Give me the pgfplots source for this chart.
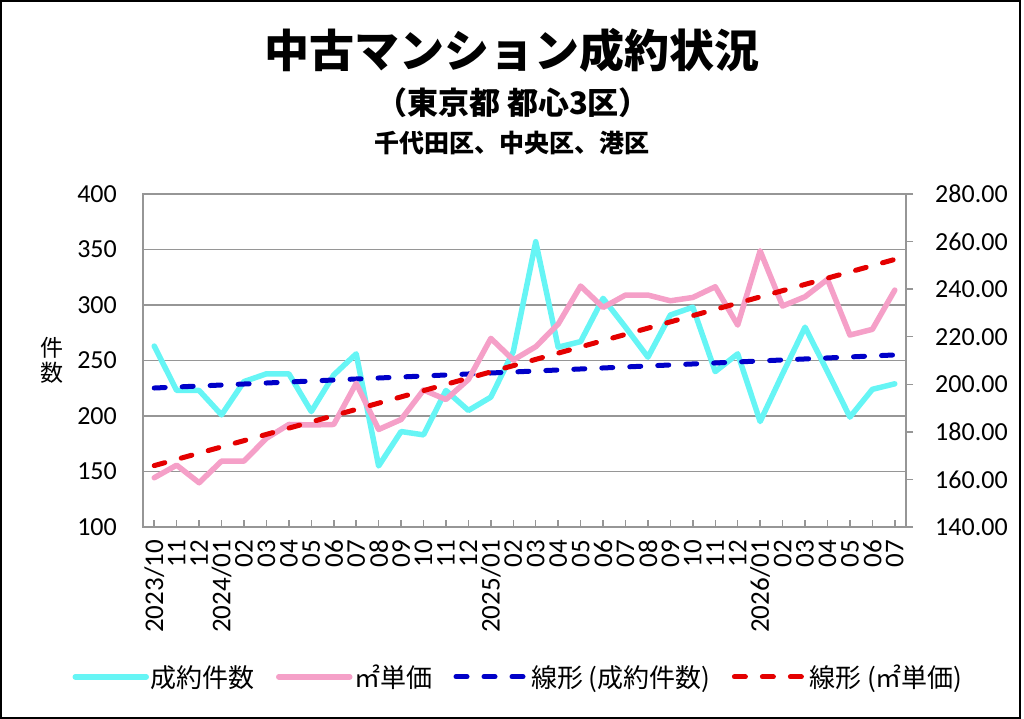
\documentclass[border=0pt]{standalone}
\usepackage{pgfplots}
\pgfplotsset{compat=1.18}
\usepackage{fontspec}
\setmainfont{Carlito}
\newfontfamily\jp{Noto Sans CJK JP}
\definecolor{cy}{RGB}{102,245,245}
\definecolor{pk}{RGB}{245,160,200}
\definecolor{bl}{RGB}{0,0,200}
\definecolor{rd}{RGB}{228,0,0}
\definecolor{gr}{RGB}{150,150,150}

\pgfplotstableread{
x cnt
0 263
1 223
2 223
3 201
4 231
5 238
6 238
7 204
8 237
9 256
10 155
11 186
12 183
13 223
14 205
15 217
16 258
17 357
18 262
19 267
20 306
21 280
22 253
23 291
24 298
25 240
26 256
27 195
28 238
29 280
30 240
31 199
32 224
33 229
}\cnttable

\pgfplotstableread{
x price
0 160.7
1 166.0
2 158.6
3 167.7
4 167.7
5 177.3
6 183.1
7 182.9
8 183.1
9 200.4
10 181.0
11 185.2
12 197.6
13 193.6
14 202.0
15 219.3
16 210.2
17 215.8
18 225.3
19 241.3
20 232.3
21 237.5
22 237.5
23 235.1
24 236.5
25 241.0
26 224.9
27 256.1
28 232.9
29 236.8
30 244.1
31 220.7
32 223.1
33 239.6
}\pricetable

\begin{document}
\begin{tikzpicture}[x=1bp,y=1bp]
\path (0,0) rectangle (1024,719);
\draw[black, line width=2bp] (1,1) rectangle (1020,718);

\node[inner sep=0pt, font=\jp\bfseries\fontsize{45bp}{50bp}\selectfont] at (512,669) {中古マンション成約状況};
\node[inner sep=0pt, font=\jp\bfseries\fontsize{31bp}{34bp}\selectfont] at (513,616) {（東京都 都心3区）};
\node[inner sep=0pt, font=\jp\bfseries\fontsize{25bp}{28bp}\selectfont] at (512,576) {千代田区、中央区、港区};
\node[inner sep=0pt, align=center, font=\jp\fontsize{23bp}{25bp}\selectfont] at (52,359) {件\\数};

\begin{axis}[
  at={(143bp,192bp)}, anchor=south west,
  scale only axis, width=763bp, height=333bp,
  xmin=-0.5, xmax=33.5, ymin=100, ymax=400,
  xtick={0,...,33},
  xticklabels={2023/10,11,12,2024/01,02,03,04,05,06,07,08,09,10,11,12,2025/01,02,03,04,05,06,07,08,09,10,11,12,2026/01,02,03,04,05,06,07},
  ytick={100,150,...,400},
  xtick pos=bottom, ytick pos=left,
  tick align=inside,
  major tick length=7bp,
  ytick style={draw=none},
  xtick style={draw=gr, line width=1.5bp},
  axis line style={draw=gr, line width=1.5bp},
  ymajorgrids,
  major grid style={draw=gr, line width=1.5bp},
  /pgf/number format/assume math mode=true,
  ticklabel style={font=\fontsize{26bp}{28bp}\selectfont},
  yticklabel style={inner sep=0pt, xshift=-26bp},
  xticklabel style={yshift=-13bp, rotate=90, anchor=east, inner sep=0pt, font=\fontsize{27bp}{28bp}\selectfont},
]
\addplot[cy, line width=5.5bp, line join=round, line cap=round] table[x=x, y=cnt] {\cnttable};
\addplot[bl, line width=5bp, line cap=round, dash pattern=on 11bp off 17bp] coordinates {(0,225.2) (33,255.0)};
\end{axis}

\begin{axis}[
  at={(143bp,192bp)}, anchor=south west,
  scale only axis, width=763bp, height=333bp,
  xmin=-0.5, xmax=33.5, ymin=140, ymax=280,
  hide x axis,
  axis y line*=right,
  ytick={140,160,...,280},
  tick align=outside,
  major tick length=7bp,
  ytick style={draw=gr, line width=1.5bp},
  axis line style={draw=gr, line width=1.5bp},
  /pgf/number format/.cd, fixed, zerofill, precision=2, 1000 sep={}, assume math mode=true,
  /pgfplots/.cd,
  yticklabel style={font=\fontsize{26bp}{28bp}\selectfont, inner sep=0pt, anchor=west, xshift=22bp},
  legend style={at={(axis description cs:0.492,-0.450)}, anchor=center, draw=none, fill=none,
    legend columns=4, font=\jp\fontsize{26bp}{28bp}\selectfont,
    /tikz/every even column/.append style={column sep=20bp},
    nodes={inner sep=1.5bp}},
  legend image code/.code={\draw[#1] (0bp,0bp) -- (71bp,0bp);},
]
\addplot[pk, line width=5.5bp, line join=round, line cap=round, forget plot] table[x=x, y=price] {\pricetable};
\addplot[rd, line width=5bp, line cap=round, dash pattern=on 11bp off 17bp, forget plot] coordinates {(0,165.8) (33,252.5)};
\addlegendimage{cy, line width=5.5bp, line cap=round}
\addlegendentry{成約件数}
\addlegendimage{pk, line width=5.5bp, line cap=round}
\addlegendentry{㎡単価}
\addlegendimage{bl, line width=5bp, line cap=round, dash pattern=on 11bp off 17bp}
\addlegendentry{線形 (成約件数)}
\addlegendimage{rd, line width=5bp, line cap=round, dash pattern=on 11bp off 17bp}
\addlegendentry{線形 (㎡単価)}
\end{axis}
\end{tikzpicture}
\end{document}
